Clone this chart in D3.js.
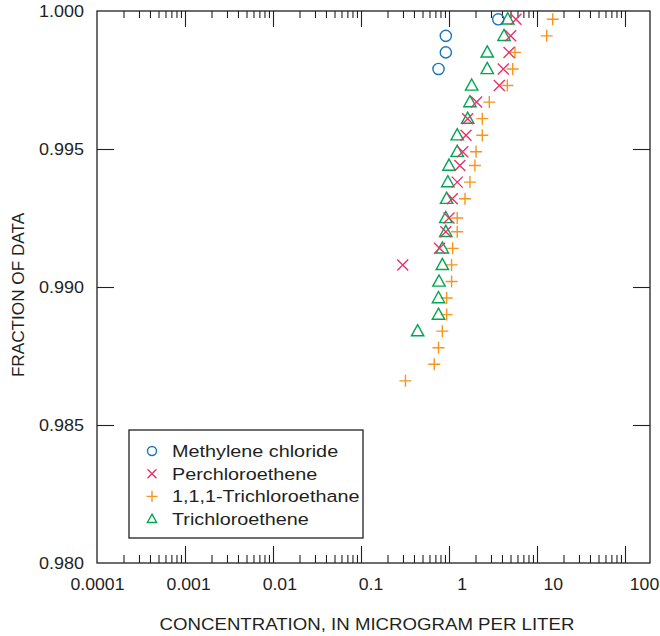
<!DOCTYPE html>
<html>
<head>
<meta charset="utf-8">
<script src="https://cdn.jsdelivr.net/npm/d3@7"></script>
<style>
  html, body { margin: 0; padding: 0; background: #fff; }
  svg { display: block; }
  text { font-family: "Liberation Sans", Arial, sans-serif; fill: #231f20; }
</style>
</head>
<body>
<svg id="chart" width="660" height="636"></svg>
<script>
// ---- data ----
const seriesNames = ["Methylene chloride", "Perchloroethene", "1,1,1-Trichloroethane", "Trichloroethene"];

const methyleneConc = [3.63, 0.92, 0.92, 0.76];
const methyleneFrac = [0.9997, 0.9991, 0.9985, 0.9979];

const perchloroConc = [5.77, 5.02, 4.81, 4.14, 3.73, 2.06, 1.63, 1.56, 1.43, 1.33, 1.24, 1.09, 1.00, 0.92, 0.78, 0.298];
const perchloroFrac = [0.9997, 0.9991, 0.9985, 0.9979, 0.9973, 0.9967, 0.9961, 0.9955, 0.9949, 0.9944, 0.9938, 0.9932, 0.9925, 0.9920, 0.9914, 0.9908];

const tcaConc = [15.1, 12.9, 5.62, 5.29, 4.60, 2.87, 2.39, 2.39, 2.03, 1.97, 1.73, 1.52, 1.24, 1.24, 1.10, 1.07, 1.07, 0.94, 0.94, 0.84, 0.76, 0.68, 0.32];
const tcaFrac = [0.9997, 0.9991, 0.9985, 0.9979, 0.9973, 0.9967, 0.9961, 0.9955, 0.9949, 0.9944, 0.9938, 0.9932, 0.9925, 0.9920, 0.9914, 0.9908, 0.9902, 0.9896, 0.9890, 0.9884, 0.9878, 0.9872, 0.9866];

const tceConc = [4.65, 4.22, 2.72, 2.72, 1.81, 1.73, 1.63, 1.24, 1.24, 1.00, 0.97, 0.94, 0.92, 0.92, 0.84, 0.84, 0.77, 0.76, 0.76, 0.44];
const tceFrac = [0.9997, 0.9991, 0.9985, 0.9979, 0.9973, 0.9967, 0.9961, 0.9955, 0.9949, 0.9944, 0.9938, 0.9932, 0.9925, 0.9920, 0.9914, 0.9908, 0.9902, 0.9896, 0.9890, 0.9884];

const xTickLabels = ["0.0001", "0.001", "0.01", "0.1", "1", "10", "100"];
const xTickValues = [0.0001, 0.001, 0.01, 0.1, 1, 10, 100];
const yTickValues = [0.980, 0.985, 0.990, 0.995, 1.000];

const xTitle = "CONCENTRATION, IN MICROGRAM PER LITER";
const yTitle = "FRACTION OF DATA";

// ---- layout ----
const svg = d3.select("#chart");
const L = 97, R = 650, T = 11, B = 563;
const tickRight = 625;   // tick pattern in the reference ends short of the frame
const labelRight = 644;  // tick labels in the reference are spread a little wider

const x = d3.scaleLog().domain([0.0001, 100]).range([L, tickRight]);
const xLab = d3.scaleLog().domain([0.0001, 100]).range([L, labelRight]);
const y = d3.scaleLinear().domain([0.980, 1.000]).range([B, T]);

const colors = {
  circle: "#1b75bc",
  cross: "#e8336b",
  plus: "#f7941d",
  tri: "#00a651"
};
const ink = "#231f20";
const FS = 16.5;

// minor tick values
const minorVals = [];
for (let e = -4; e < 2; e++) for (let m = 2; m <= 9; m++) minorVals.push(m * Math.pow(10, e));
const majorInner = [0.001, 0.01, 0.1, 1, 10, 100];

function styleAxis(g) {
  g.select(".domain").remove();
  g.selectAll(".tick line").attr("stroke", ink).attr("stroke-width", 1.1);
  g.selectAll(".tick text").remove();
}

// bottom edge ticks (pointing up, inward)
svg.append("g").attr("transform", `translate(0,${B})`)
  .call(d3.axisTop(x).tickValues(majorInner).tickSize(17).tickFormat(""))
  .call(styleAxis);
svg.append("g").attr("transform", `translate(0,${B})`)
  .call(d3.axisTop(x).tickValues(minorVals).tickSize(8).tickFormat(""))
  .call(styleAxis);
// top edge ticks (pointing down, inward)
svg.append("g").attr("transform", `translate(0,${T})`)
  .call(d3.axisBottom(x).tickValues(majorInner).tickSize(16).tickFormat(""))
  .call(styleAxis);
svg.append("g").attr("transform", `translate(0,${T})`)
  .call(d3.axisBottom(x).tickValues(minorVals).tickSize(7).tickFormat(""))
  .call(styleAxis);

// y ticks inward on both sides
svg.append("g").attr("transform", `translate(${L},0)`)
  .call(d3.axisRight(y).tickValues([0.985, 0.990, 0.995]).tickSize(17).tickFormat(""))
  .call(styleAxis);
svg.append("g").attr("transform", `translate(${R},0)`)
  .call(d3.axisLeft(y).tickValues([0.985, 0.990, 0.995]).tickSize(17).tickFormat(""))
  .call(styleAxis);

// frame
svg.append("rect").attr("x", L).attr("y", T).attr("width", R - L).attr("height", B - T)
  .attr("fill", "none").attr("stroke", ink).attr("stroke-width", 1.3);

// x labels
const sxNum = 1.07;
const xl = svg.append("g").attr("transform", `translate(0,${B})`)
  .call(d3.axisBottom(xLab).tickValues(xTickValues).tickSize(0).tickPadding(15)
    .tickFormat((d, i) => xTickLabels[i]));
xl.select(".domain").remove();
xl.selectAll("text").attr("font-size", FS).attr("fill", ink)
  .attr("transform", `scale(${sxNum},1)`)
  .style("font-family", "'Liberation Sans', Arial, sans-serif");

// y labels
const yl = svg.append("g").attr("transform", `translate(${L},0)`)
  .call(d3.axisLeft(y).tickValues(yTickValues).tickSize(0).tickPadding(13).tickFormat(d3.format(".3f")));
yl.select(".domain").remove();
yl.selectAll("text").attr("font-size", FS).attr("fill", ink)
  .attr("x", -13 / 1.09).attr("transform", "scale(1.09,1)")
  .style("font-family", "'Liberation Sans', Arial, sans-serif");

// titles
svg.append("text").attr("transform", `translate(367,630) scale(1.13,1)`)
  .attr("text-anchor", "middle").attr("font-size", FS).text(xTitle);
svg.append("text").attr("transform", `translate(24,${(T + B) / 2 + 8}) rotate(-90) scale(1.04,1)`)
  .attr("text-anchor", "middle").attr("font-size", FS).text(yTitle);

// ---- symbols ----
const sw = 1.4;
function drawCircle(g, cx, cy, r) {
  g.append("circle").attr("cx", cx).attr("cy", cy).attr("r", r)
    .attr("fill", "none").attr("stroke", colors.circle).attr("stroke-width", sw);
}
function drawCross(g, cx, cy, h) {
  g.append("path").attr("d", `M${cx - h},${cy - h}L${cx + h},${cy + h}M${cx - h},${cy + h}L${cx + h},${cy - h}`)
    .attr("stroke", colors.cross).attr("stroke-width", sw).attr("fill", "none");
}
function drawPlus(g, cx, cy, h) {
  g.append("path").attr("d", `M${cx - h},${cy}L${cx + h},${cy}M${cx},${cy - h}L${cx},${cy + h}`)
    .attr("stroke", colors.plus).attr("stroke-width", sw).attr("fill", "none");
}
function drawTri(g, cx, cy, h) {
  g.append("path").attr("d", `M${cx},${cy - h * 1.05}L${cx + h},${cy + h * 0.75}L${cx - h},${cy + h * 0.75}Z`)
    .attr("stroke", colors.tri).attr("stroke-width", sw).attr("fill", "none");
}

const pts = svg.append("g");
tcaConc.forEach((c, i) => drawPlus(pts, x(c), y(tcaFrac[i]), 6));
tceConc.forEach((c, i) => drawTri(pts, x(c), y(tceFrac[i]), 6.2));
perchloroConc.forEach((c, i) => drawCross(pts, x(c), y(perchloroFrac[i]), 5.5));
methyleneConc.forEach((c, i) => drawCircle(pts, x(c), y(methyleneFrac[i]), 5.6));

// ---- legend ----
const lg = svg.append("g");
lg.append("rect").attr("x", 129).attr("y", 430).attr("width", 234).attr("height", 108)
  .attr("fill", "#fff").attr("stroke", ink).attr("stroke-width", 1.3);
const legY = d3.scalePoint().domain(seriesNames).range([451, 519]);
const drawers = [
  (g, cx, cy) => drawCircle(g, cx, cy, 4.5),
  (g, cx, cy) => drawCross(g, cx, cy, 4.5),
  (g, cx, cy) => drawPlus(g, cx, cy, 5.5),
  (g, cx, cy) => drawTri(g, cx, cy, 4.6)
];
seriesNames.forEach((n, i) => {
  drawers[i](lg, 152, legY(n));
  lg.append("text").attr("transform", `translate(172,${legY(n) + 6}) scale(1.2,1)`)
    .attr("font-size", FS).text(n);
});
</script>
</body>
</html>
